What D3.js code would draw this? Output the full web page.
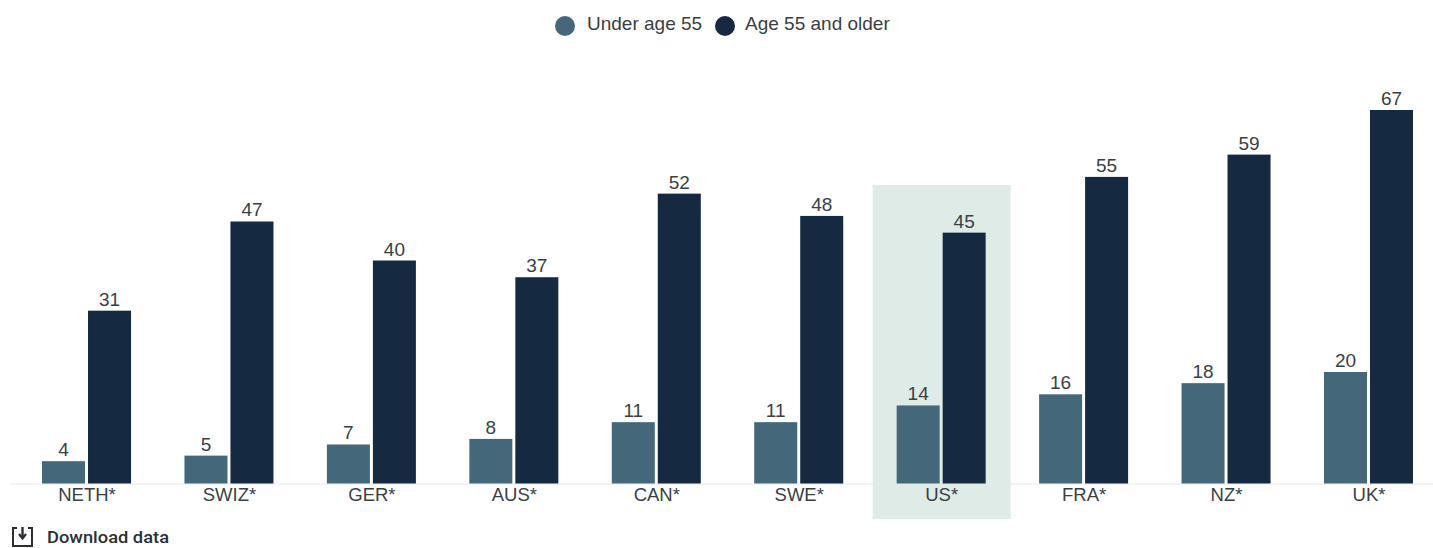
<!DOCTYPE html>
<html><head><meta charset="utf-8">
<script src="https://cdn.jsdelivr.net/npm/d3@7"></script>
<style>html,body{margin:0;padding:0;background:#fff}svg{display:block}text{font-family:"Liberation Sans",Arial,sans-serif}</style>
</head><body><svg id="c" width="1433" height="548"></svg>
<script>
const categories=["NETH*","SWIZ*","GER*","AUS*","CAN*","SWE*","US*","FRA*","NZ*","UK*"];
const under55=[4,5,7,8,11,11,14,16,18,20];
const over55=[31,47,40,37,52,48,45,55,59,67];
const seriesNames=["Under age 55","Age 55 and older"];
const seriesColors=["#44687a","#152a40"];
const highlight="US*";

const svg=d3.select("#c");
const baseY=483.5;
const y=d3.scaleLinear().domain([0,67]).range([baseY,110]);
const x=d3.scaleBand().domain(categories).range([15.3,1439.7]);
const inner=d3.scaleBand().domain([0,1]).range([0,89]).paddingInner(0.065);
const groupX=c=>x(c)+x.bandwidth()/2-44.5;

svg.append("rect").attr("x",x(highlight)+x.bandwidth()/2-68.5).attr("y",185)
  .attr("width",138).attr("height",334).attr("fill","#dfebe7");

svg.append("line").attr("x1",10).attr("x2",1433).attr("y1",baseY+.5).attr("y2",baseY+.5)
  .attr("stroke","#e6e8ea").attr("stroke-width",1);

[under55,over55].forEach((vals,s)=>{
  const g=svg.append("g");
  g.selectAll("rect").data(vals).join("rect")
    .attr("x",(d,i)=>groupX(categories[i])+inner(s))
    .attr("width",inner.bandwidth())
    .attr("y",d=>y(d)).attr("height",d=>baseY-y(d))
    .attr("fill",seriesColors[s]);
  g.selectAll("text").data(vals).join("text")
    .attr("x",(d,i)=>groupX(categories[i])+inner(s)+inner.bandwidth()/2)
    .attr("y",d=>y(d)-5).attr("text-anchor","middle")
    .attr("font-size",19).attr("fill","#3a3f44").text(d=>d);
});

const axis=d3.axisBottom(x).tickSize(0).tickPadding(4);
const ag=svg.append("g").attr("transform",`translate(0.5,${baseY})`).call(axis);
ag.select(".domain").remove();
ag.selectAll("text").attr("font-size",18.5).attr("fill","#3a3f44").style("font-family",'"Liberation Sans",Arial,sans-serif');

const leg=[{cx:565,tx:587},{cx:725,tx:745}];
seriesNames.forEach((n,i)=>{
  svg.append("circle").attr("cx",leg[i].cx).attr("cy",26).attr("r",10).attr("fill",seriesColors[i]);
  svg.append("text").attr("x",leg[i].tx).attr("y",30).attr("font-size",19).attr("fill","#3a3f44").text(n);
});

const ic=svg.append("g").attr("fill","none").attr("stroke","#2b2f33").attr("stroke-width",2);
ic.append("path").attr("d","M17 528H13V546H32V528H28");
ic.append("path").attr("d","M22.5 527V538").attr("stroke-width",2.4);
ic.append("path").attr("d","M19 534L22.5 538.5L26 534").attr("stroke-width",2.2);
svg.append("text").attr("x",47).attr("y",543).attr("font-size",17).attr("font-weight",500)
  .style("font-family","Roboto,sans-serif")
  .attr("fill","#2b2f33").attr("textLength",122).attr("lengthAdjust","spacingAndGlyphs").text("Download data");
</script></body></html>
